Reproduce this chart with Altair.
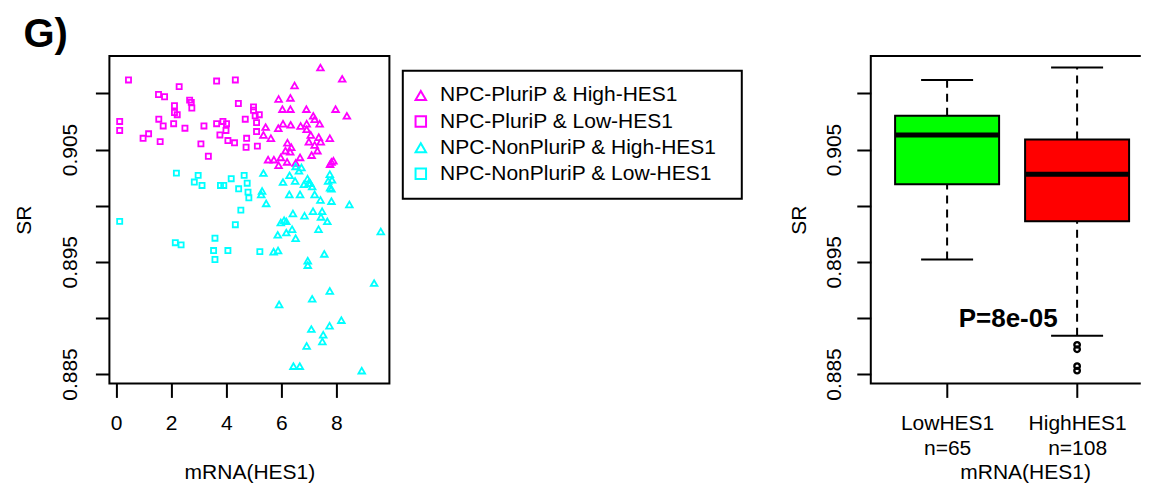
import json
import altair as alt
import pandas as pd

FONT = "Liberation Sans"

# ---------------- scatter data (mRNA(HES1) vs SR) ----------------
pluri_low_x = [0.45, 2.29, 3.65, 4.33, 1.54, 1.76, 2.67, 2.73, 2.75, 2.12,
               2.12, 2.22, 4.44, 4.99, 4.99, 5.05, 5.20, 0.13, 0.13, 1.55,
               1.71, 2.09, 2.50, 3.19, 3.65, 3.88, 4.01, 3.99, 3.77, 4.06,
               4.30, 4.69, 5.10, 5.10, 4.74, 4.72, 5.13, 1.18, 0.98, 1.60,
               3.08, 3.35]
pluri_low_y = [0.9112, 0.9106, 0.9111, 0.9112, 0.9099, 0.9097, 0.9094, 0.9092, 0.9087, 0.9089,
               0.9083, 0.9081, 0.9091, 0.9088, 0.9085, 0.9080, 0.9081, 0.9075, 0.9067, 0.9077,
               0.9071, 0.9073, 0.9069, 0.9071, 0.9073, 0.9075, 0.9073, 0.9067, 0.9063, 0.9058,
               0.9056, 0.9077, 0.9074, 0.9066, 0.9060, 0.9052, 0.9053, 0.9064, 0.9060, 0.9057,
               0.9055, 0.9044]

pluri_high_x = [7.42, 8.21, 6.48, 5.90, 6.33, 6.04, 6.33, 6.91, 7.97, 8.38,
                7.16, 7.21, 7.39, 6.92, 6.70, 6.34, 6.06, 5.89, 5.43, 5.35,
                5.62, 6.92, 7.07, 7.36, 7.76, 7.00, 7.43, 7.21, 7.31, 7.10,
                6.22, 6.36, 6.15, 6.32, 6.68, 5.98, 5.52, 5.73, 6.21, 5.90,
                6.52, 7.82, 7.89, 7.77]
pluri_high_y = [0.9123, 0.9113, 0.9107, 0.9095, 0.9096, 0.9086, 0.9086, 0.9086, 0.9086, 0.9080,
                0.9080, 0.9077, 0.9073, 0.9073, 0.9071, 0.9072, 0.9073, 0.9069, 0.9070, 0.9063,
                0.9060, 0.9068, 0.9063, 0.9061, 0.9060, 0.9057, 0.9057, 0.9054, 0.9049, 0.9045,
                0.9056, 0.9052, 0.9049, 0.9048, 0.9043, 0.9043, 0.9041, 0.9041, 0.9039, 0.9036,
                0.9038, 0.9039, 0.9040, 0.9037]

nonpluri_high_x = [5.35, 6.06, 6.30, 6.50, 6.52, 6.64, 6.73, 6.95, 6.82, 7.05,
                   7.12, 6.99, 7.76, 7.70, 7.84, 7.77, 7.82, 5.30, 5.27, 5.45,
                   6.29, 6.68, 7.21, 7.42, 7.82, 8.47, 6.42, 7.15, 6.84, 7.48,
                   7.44, 7.67, 5.98, 6.10, 6.18, 6.39, 6.18, 5.87, 6.52, 7.35,
                   9.61, 5.72, 5.88, 6.96, 6.96, 7.56, 9.37, 7.76, 7.12, 5.92,
                   8.18, 7.75, 7.09, 7.52, 7.49, 6.92, 6.44, 6.67, 8.92]
nonpluri_high_y = [0.9029, 0.9021, 0.9027, 0.9022, 0.9035, 0.9031, 0.9034, 0.9024, 0.9019, 0.9020,
                   0.9017, 0.9020, 0.9028, 0.9022, 0.9023, 0.9016, 0.9015, 0.9013, 0.9010, 0.9002,
                   0.9010, 0.9010, 0.9010, 0.9005, 0.9004, 0.9001, 0.8993, 0.8995, 0.8991, 0.8995,
                   0.8990, 0.8986, 0.8985, 0.8987, 0.8986, 0.8979, 0.8976, 0.8974, 0.8971, 0.8979,
                   0.8977, 0.8959, 0.8960, 0.8951, 0.8947, 0.8957, 0.8931, 0.8924, 0.8917, 0.8912,
                   0.8898, 0.8893, 0.8890, 0.8885, 0.8879, 0.8875, 0.8857, 0.8857, 0.8853]

nonpluri_low_x = [2.19, 2.98, 2.84, 3.12, 3.79, 3.91, 4.18, 4.65, 4.76, 4.45,
                  4.79, 4.82, 4.53, 4.33, 0.13, 2.15, 2.36, 3.59, 3.54, 4.06,
                  3.59, 5.22]
nonpluri_low_y = [0.9029, 0.9027, 0.9021, 0.9018, 0.9018, 0.9018, 0.9024, 0.9027, 0.9020, 0.9015,
                  0.9012, 0.9007, 0.8996, 0.8983, 0.8986, 0.8967, 0.8965, 0.8971, 0.8960, 0.8960,
                  0.8952, 0.8959]

groups = ["NPC-PluriP & High-HES1", "NPC-PluriP & Low-HES1",
          "NPC-NonPluriP & High-HES1", "NPC-NonPluriP & Low-HES1"]
group_colors = ["#FF00FF", "#FF00FF", "#00FFFF", "#00FFFF"]
group_shapes = ["triangle-up", "square", "triangle-up", "square"]

hes1_ticks = [0, 2, 4, 6, 8]
sr_ticks = [0.885, 0.890, 0.895, 0.900, 0.905, 0.910]
sr_labelled = ["0.885", "0.895", "0.905"]

# ---------------- box plot summary ----------------
box_groups = ["LowHES1", "HighHES1"]
box_counts = ["n=65", "n=108"]
box_pos = [1, 2]
box_colors = ["#00FF00", "#FF0000"]
whisker_low = [0.8952, 0.8884]
q1 = [0.9019, 0.8986]
median = [0.9063, 0.9028]
q3 = [0.9080, 0.9059]
whisker_high = [0.9112, 0.9123]
outlier_pos = [2, 2, 2, 2]
outlier_sr = [0.8876, 0.8872, 0.8857, 0.8853]
pval_text = ["P=8e-05"]
pval_x = [1.47]
pval_y = [0.8899]

# ---------------- tables ----------------
rows = []
for g, xs, ys in [(groups[1], pluri_low_x, pluri_low_y),
                  (groups[0], pluri_high_x, pluri_high_y),
                  (groups[2], nonpluri_high_x, nonpluri_high_y),
                  (groups[3], nonpluri_low_x, nonpluri_low_y)]:
    for xv, yv in zip(xs, ys):
        rows.append({"group": g, "hes1": xv, "sr": yv})
scatter_df = pd.DataFrame(rows)
tri_df = scatter_df[scatter_df["group"].str.contains("High")]
sq_df = scatter_df[scatter_df["group"].str.contains("Low")]

box_df = pd.DataFrame({"hes1_class": box_groups, "pos": box_pos, "wlo": whisker_low,
                       "q1": q1, "med": median, "q3": q3, "whi": whisker_high})
out_df = pd.DataFrame({"pos": outlier_pos, "sr": outlier_sr})
p_df = pd.DataFrame({"label": pval_text, "pos": pval_x, "sr": pval_y})

# ---------------- shared pieces ----------------
PLOT_H = 327.4
LEFT_W = 280
RIGHT_W = 270
sr_scale = alt.Scale(domain=[0.884163, 0.913332], nice=False, zero=False, padding=0)
sr_label_expr = "indexof(%s, datum.label) >= 0 ? datum.label : ''" % json.dumps(sr_labelled)


def sr_axis(label_pad, title_pad):
    return alt.Axis(values=sr_ticks, format=".3f", labelExpr=sr_label_expr,
                    labelAngle=270, labelAlign="center", labelBaseline="bottom",
                    labelFont=FONT, labelFontSize=21, labelColor="black",
                    labelPadding=label_pad, labelOverlap=False, labelFlush=False,
                    tickSize=14, tickWidth=2, tickColor="black",
                    domain=False, grid=False,
                    title="SR", titleFont=FONT, titleFontSize=21,
                    titleFontWeight="normal", titleColor="black", titlePadding=title_pad)


# ---------------- left: scatter ----------------
legend = alt.Legend(orient="none", legendX=293.4, legendY=14.7,
                    padding=14.3, rowPadding=4.1, labelFont=FONT, labelFontSize=21,
                    labelColor="black", labelOffset=8.7, symbolOffset=-6.8, labelLimit=500,
                    symbolSize=110, symbolStrokeWidth=2,
                    title=".", titleOrient="right", titleOpacity=0, titleFontSize=21,
                    titlePadding=5,
                    strokeColor="black", fillColor="white")

x_left = alt.X("hes1:Q", scale=alt.Scale(domain=[-0.243, 9.924], nice=False, zero=False,
                                         padding=0),
               axis=alt.Axis(values=hes1_ticks, labelFont=FONT, labelFontSize=21,
                             labelColor="black", labelPadding=15, labelFlush=False,
                             tickSize=14, tickWidth=2, tickColor="black",
                             domain=False, grid=False, title="mRNA(HES1)",
                             titleFont=FONT, titleFontSize=21, titleFontWeight="normal",
                             titleColor="black", titlePadding=28))
y_left = alt.Y("sr:Q", scale=sr_scale, axis=sr_axis(15, 25))
color_enc = alt.Color("group:N", scale=alt.Scale(domain=groups, range=group_colors),
                      legend=legend)
shape_enc = alt.Shape("group:N", scale=alt.Scale(domain=groups, range=group_shapes),
                      legend=legend)

tri = alt.Chart(tri_df).mark_point(filled=False, size=44, strokeWidth=1.8, opacity=1).encode(
    x=x_left, y=y_left, color=color_enc, shape=shape_enc)
sq = alt.Chart(sq_df).mark_point(filled=False, size=26, strokeWidth=1.8, opacity=1).encode(
    x=x_left, y=y_left, color=color_enc, shape=shape_enc)

left = alt.layer(tri, sq).properties(
    width=LEFT_W, height=PLOT_H,
    view=alt.ViewBackground(stroke="black", strokeWidth=2))

# ---------------- right: box plot ----------------
label_parts = []
for p, g, n in zip(box_pos, box_groups, box_counts):
    label_parts.append("datum.value == %d ? %s : " % (p, json.dumps([g, n])))
box_label_expr = "".join(label_parts) + "''"

x_right = alt.X("pos:Q", scale=alt.Scale(domain=[0.413, 0.413 + RIGHT_W / 130.0],
                                         nice=False, zero=False, padding=0),
                axis=alt.Axis(values=box_pos, labelExpr=box_label_expr, labelLineHeight=25,
                              labelFont=FONT, labelFontSize=21, labelColor="black",
                              labelPadding=15, labelFlush=False, labelBaseline="top",
                              tickSize=14, tickWidth=2, tickColor="black",
                              domain=False, grid=False, title="mRNA(HES1)",
                              titleFont=FONT, titleFontSize=21, titleFontWeight="normal",
                              titleColor="black", titlePadding=3, titleX=154.3))
y_right_axis = sr_axis(12.6, 14)

whisk_up = alt.Chart(box_df).mark_rule(color="black", strokeWidth=2, strokeDash=[8, 6]).encode(
    x=x_right, y=alt.Y("q3:Q", scale=sr_scale, axis=y_right_axis), y2="whi:Q")
whisk_lo = alt.Chart(box_df).mark_rule(color="black", strokeWidth=2, strokeDash=[8, 6]).encode(
    x=x_right, y=alt.Y("wlo:Q", scale=sr_scale, axis=y_right_axis), y2="q1:Q")
cap_hi = alt.Chart(box_df).mark_tick(orient="horizontal", color="black", size=52,
                                     thickness=2, opacity=1).encode(
    x=x_right, y=alt.Y("whi:Q", scale=sr_scale, axis=y_right_axis))
cap_lo = alt.Chart(box_df).mark_tick(orient="horizontal", color="black", size=52,
                                     thickness=2, opacity=1).encode(
    x=x_right, y=alt.Y("wlo:Q", scale=sr_scale, axis=y_right_axis))
boxes = alt.Chart(box_df).mark_bar(size=104, stroke="black", strokeWidth=2, opacity=1).encode(
    x=x_right, y=alt.Y("q1:Q", scale=sr_scale, axis=y_right_axis), y2="q3:Q",
    fill=alt.Fill("hes1_class:N", scale=alt.Scale(domain=box_groups, range=box_colors),
                  legend=None))
med = alt.Chart(box_df).mark_tick(orient="horizontal", color="black", size=104,
                                  thickness=5, opacity=1).encode(
    x=x_right, y=alt.Y("med:Q", scale=sr_scale, axis=y_right_axis))
outl = alt.Chart(out_df).mark_point(shape="circle", filled=False, color="black",
                                    size=30, strokeWidth=2.4, opacity=1).encode(
    x=x_right, y=alt.Y("sr:Q", scale=sr_scale, axis=y_right_axis))
ptext = alt.Chart(p_df).mark_text(font=FONT, fontSize=26, fontWeight="bold",
                                  align="center", baseline="middle", color="black").encode(
    x=x_right, y=alt.Y("sr:Q", scale=sr_scale, axis=y_right_axis), text="label:N")

# frame open on the right side (the reference plot runs past the picture edge):
# dash pattern = top edge, gap over the right edge, then bottom + left edges
right = alt.layer(whisk_up, whisk_lo, cap_hi, cap_lo, boxes, med, outl, ptext).properties(
    width=RIGHT_W, height=PLOT_H,
    view=alt.ViewBackground(stroke="black", strokeWidth=2,
                            strokeDash=[RIGHT_W, PLOT_H, RIGHT_W + PLOT_H]))

chart = alt.hconcat(left, right, spacing=42.4).resolve_scale(
    color="independent", shape="independent", fill="independent",
    x="independent", y="independent",
).properties(
    title=alt.TitleParams(text="G)", anchor="start", font=FONT, fontSize=40,
                          fontWeight="bold", color="black", offset=0, dx=11),
    padding={"left": 4.4, "top": 7, "right": 0, "bottom": 0},
).configure(font=FONT).configure_legend(strokeWidth=2)

chart.save("out.html", embed_options={"renderer": "svg", "actions": False})
